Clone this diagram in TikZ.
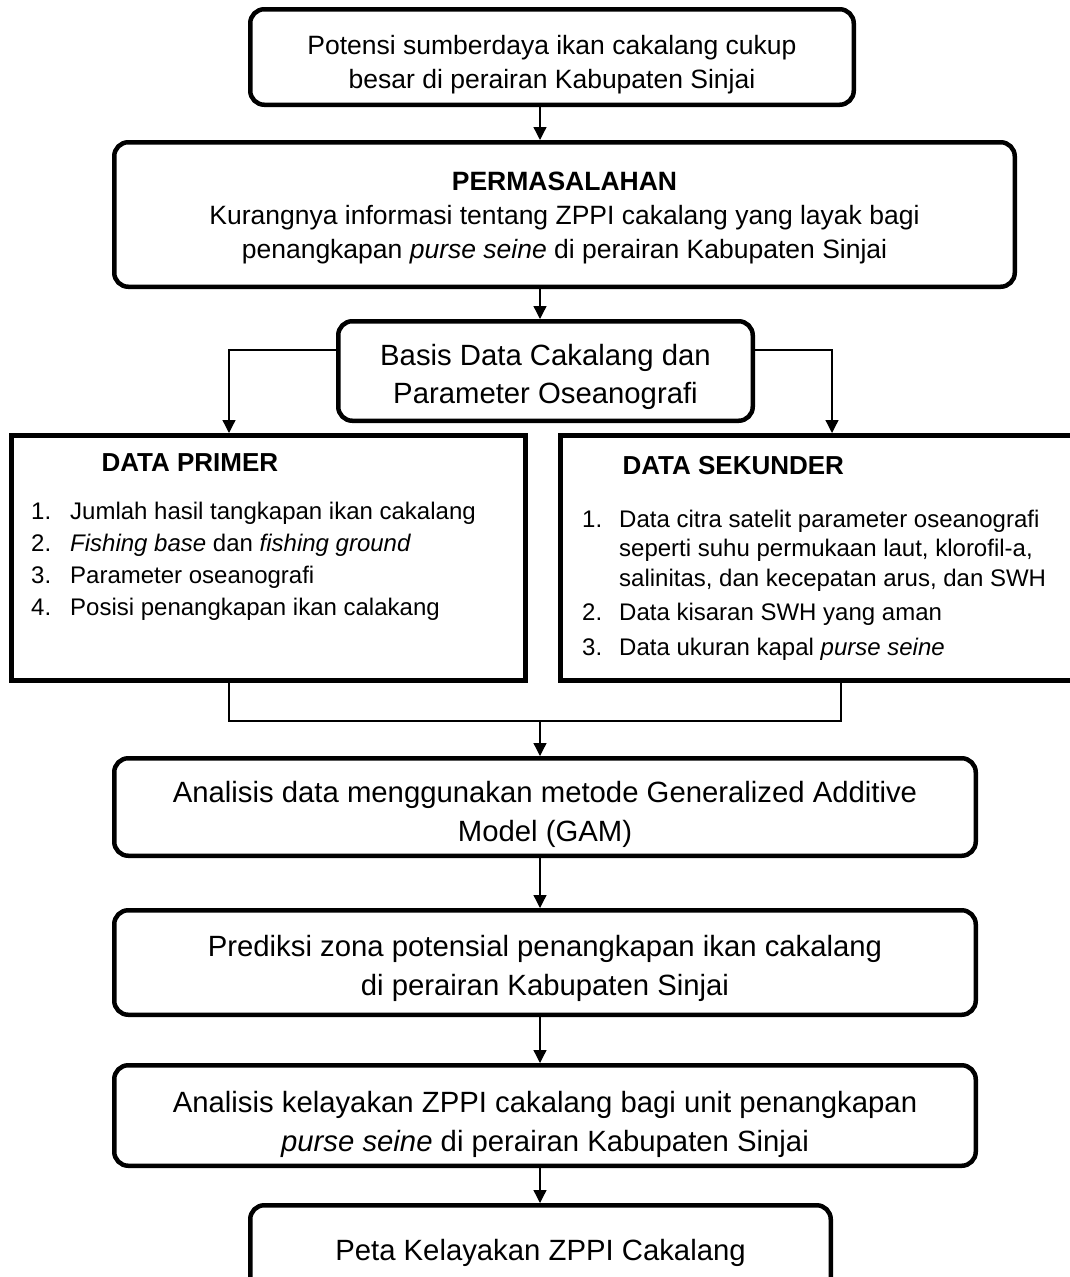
\documentclass[tikz,border=0pt]{standalone}
\usepackage{fontspec}
\setmainfont{Liberation Sans}
\usetikzlibrary{arrows.meta}
\begin{document}
\begin{tikzpicture}[x=1pt,y=-1pt,
  rbox/.style={draw, line width=4.5pt, rounded corners=14pt, inner sep=0pt},
  dbox/.style={draw, line width=5pt, inner sep=0pt},
  txt/.style={align=center, inner sep=0pt},
  link/.style={line width=1.3pt},
  arr/.style={link, -{Triangle[length=13pt,width=13pt]}},
  big/.style={font=\fontsize{29.3}{39}\selectfont},
  mid/.style={font=\fontsize{26.5}{34}\selectfont},
  lst/.style={font=\fontsize{24}{30}\selectfont},
  ttl/.style={font=\bfseries\fontsize{26}{30}\selectfont, anchor=base west}]
\useasboundingbox (0,0) rectangle (1070,1277);

\coordinate (ax) at (540,0);
\coordinate (lk) at (229,350);
\coordinate (rk) at (832,350);
\coordinate (jl) at (229,721);
\coordinate (jr) at (841,721);

% boxes
\node[rbox, minimum width=603.5pt, minimum height=95.5pt] (b1) at (552,57) {};
\node[rbox, minimum width=900.5pt, minimum height=144.5pt] (b2) at (564.5,214.5) {};
\node[rbox, minimum width=414.5pt, minimum height=99.5pt] (b3) at (545.5,371) {};
\node[dbox, minimum width=514pt, minimum height=245pt] (prim) at (268.5,558) {};
\node[dbox, minimum width=527pt, minimum height=245pt] (sek) at (824,558) {};
\node[rbox, minimum width=861.5pt, minimum height=97.5pt] (b4) at (545,807) {};
\node[rbox, minimum width=861.5pt, minimum height=104.5pt] (b5) at (545,962.5) {};
\node[rbox, minimum width=861.5pt, minimum height=100.5pt] (b6) at (545,1115.5) {};
\node[rbox, minimum width=580.5pt, minimum height=95.5pt] (b7) at (540.5,1253) {};

% texts
\node[txt, mid] (t1) at (552,65)
  {Potensi sumberdaya ikan cakalang cukup\\besar di perairan Kabupaten Sinjai};
\node[txt, mid] (t2) at (564.5,218)
  {\textbf{PERMASALAHAN}\\Kurangnya informasi tentang ZPPI cakalang yang layak bagi\\penangkapan \textit{purse seine} di perairan Kabupaten Sinjai};
\node[txt, big, font=\fontsize{29.3}{38}\selectfont] (t3) at (545.5,376.5)
  {Basis Data Cakalang dan\\Parameter Oseanografi};

\node[ttl] (pt) at (98,471) {DATA PRIMER};
\node[ttl] (st) at (619,474) {DATA SEKUNDER};

\node[lst, anchor=base west, inner sep=0pt] (pl) at (31,519) {%
\fontsize{24}{32}\selectfont
\begin{tabular}[t]{@{}p{39pt}@{}l@{}}
1. & Jumlah hasil tangkapan ikan cakalang\\
2. & \textit{Fishing base} dan \textit{fishing ground}\\
3. & Parameter oseanografi\\
4. & Posisi penangkapan ikan calakang
\end{tabular}};

\node[lst, anchor=base west, inner sep=0pt] (sl) at (582,527) {%
\fontsize{24}{29.5}\selectfont
\begin{tabular}[t]{@{}p{37pt}@{}l@{}}
1. & Data citra satelit parameter oseanografi\\
   & seperti suhu permukaan laut, klorofil-a,\\
   & salinitas, dan kecepatan arus, dan SWH\\[5pt]
2. & Data kisaran SWH yang aman\\[5pt]
3. & Data ukuran kapal \textit{purse seine}
\end{tabular}};

\node[txt, big] (t4) at (545,814)
  {Analisis data menggunakan metode Generalized Additive\\Model (GAM)};
\node[txt, big] (t5) at (545,968.5)
  {Prediksi zona potensial penangkapan ikan cakalang\\di perairan Kabupaten Sinjai};
\node[txt, big] (t6) at (545,1124.5)
  {Analisis kelayakan ZPPI cakalang bagi unit penangkapan\\\textit{purse seine} di perairan Kabupaten Sinjai};
\node[txt, big] (t7) at (540.5,1253)
  {Peta Kelayakan ZPPI Cakalang};

% connectors
\draw[arr] (b1.south -| ax) -- (b2.north -| ax);
\draw[arr] (b2.south -| ax) -- (b3.north -| ax);
\draw[arr] (b3.west |- lk) -- (lk) -- (lk |- prim.north);
\draw[arr] (b3.east |- rk) -- (rk) -- (rk |- sek.north);
\draw[link] (prim.south -| jl) -- (jl) -- (jr) -- (sek.south -| jr);
\draw[arr] (jl -| ax) -- (b4.north -| ax);
\draw[arr] (b4.south -| ax) -- (b5.north -| ax);
\draw[arr] (b5.south -| ax) -- (b6.north -| ax);
\draw[arr] (b6.south -| ax) -- (b7.north -| ax);
\end{tikzpicture}
\end{document}
